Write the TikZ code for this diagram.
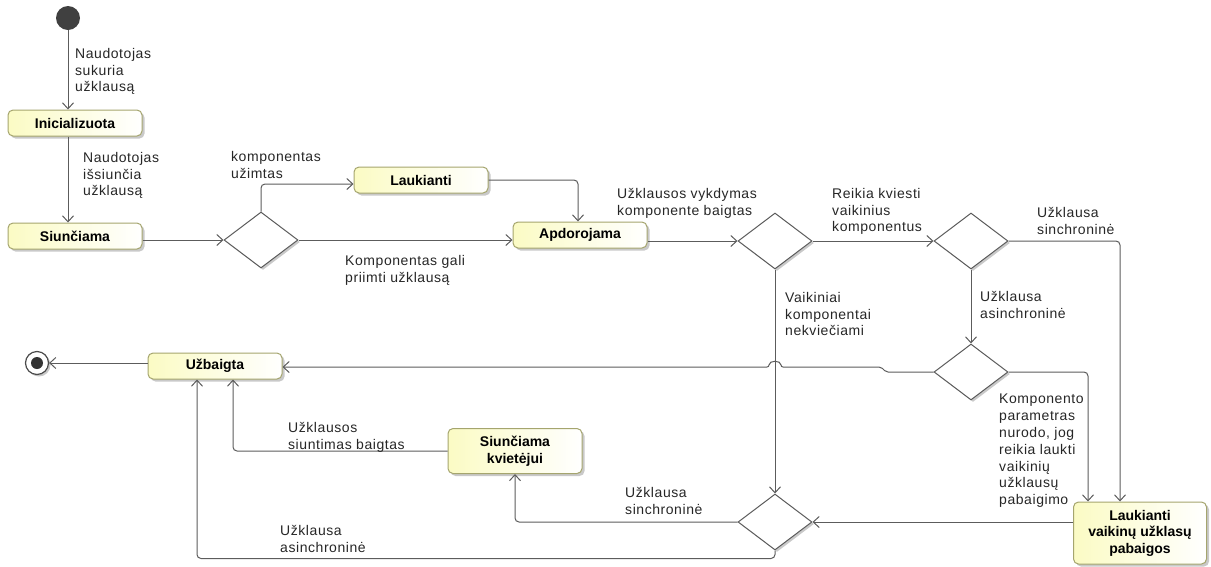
\documentclass[tikz,border=0pt]{standalone}
\usepackage{fontspec}
\setmainfont{Liberation Sans}
\usetikzlibrary{arrows.meta,shapes.geometric,shadows}

\definecolor{edgegray}{HTML}{5C5C5C}
\definecolor{stateline}{HTML}{A5A56E}
\definecolor{statefill}{HTML}{FBFBC4}

\tikzset{
  statebox/.style={rectangle, rounded corners=5pt, draw=stateline, line width=1pt,
    left color=statefill, right color=white, minimum width=134pt, minimum height=26pt,
    font=\fontsize{14}{16.5}\selectfont\bfseries, align=center, inner sep=2pt,
    drop shadow={shadow xshift=2.5pt, shadow yshift=-2.5pt, opacity=0.3, fill=black!70}},
  choice/.style={diamond, draw=edgegray, fill=white, line width=1pt, inner sep=0pt,
    minimum width=74pt, minimum height=56pt,
    drop shadow={shadow xshift=2pt, shadow yshift=-2pt, opacity=0.3, fill=black!70}},
  flow/.style={draw=edgegray, line width=1pt, rounded corners=4pt,
    -{Straight Barb[length=6pt,width=11pt]}},
  lbl/.style={font=\fontsize{14}{16.8}\selectfont\addfontfeatures{LetterSpace=4}, align=left,
    anchor=north west, inner sep=0pt, text=black!85}
}

\begin{document}
\begin{tikzpicture}[x=1pt, y=-1pt]
\useasboundingbox (0,0) rectangle (1211,566);

% pseudo states
\node[circle, fill=black!75, minimum size=24pt, inner sep=0pt] (init) at (68,18) {};
\node[circle, draw=black!70, fill=white, line width=1.2pt, minimum size=23pt, inner sep=0pt,
  drop shadow={shadow xshift=2pt, shadow yshift=-2pt, opacity=0.3, fill=black!70}] (fin) at (37,363) {};
\node[circle, fill=black!80, minimum size=12pt, inner sep=0pt] (finin) at (fin) {};

% states
\node[statebox] (ini)  at (75,123)  {Inicializuota};
\node[statebox] (siu)  at (75,236)  {Siunčiama};
\node[statebox] (lauk) at (421,180) {Laukianti};
\node[statebox] (apd)  at (580,235) {Apdorojama};
\node[statebox] (uzb)  at (215,366) {Užbaigta};
\node[statebox, minimum height=45pt] (sk) at (515,451) {Siunčiama\\kvietėjui};
\node[statebox, minimum width=133pt, minimum height=62pt] (lvp) at (1140,533) {Laukianti\\vaikinų užklasų\\pabaigos};

% decisions
\node[choice] (d1) at (261,240) {};
\node[choice] (d2) at (775,241) {};
\node[choice] (d3) at (971,241) {};
\node[choice] (d4) at (971,372) {};
\node[choice] (d5) at (775,522) {};

% transitions
\draw[flow] (init.south) -- (init |- ini.north);
\draw[flow] (init |- ini.south) -- (init |- siu.north);
\draw[flow] (siu.east |- d1.west) -- (d1.west);
\draw[flow] (d1.north) |- ([yshift=-4pt]lauk.west);
\draw[flow] (lauk.east) -| ([xshift=-2pt]apd.north);
\draw[flow] (d1.east) -- (d1.east -| apd.west);
\draw[flow] (apd.east |- d2.west) -- (d2.west);
\draw[flow] (d2.east) -- (d3.west);
\draw[flow] (d3.east) -| ([xshift=-20pt]lvp.north);
\draw[flow] (d3.south) -- (d4.north);
\draw[flow] (d4.east) -| ([xshift=-52pt]lvp.north);
\draw[flow, rounded corners=2pt] (d4.west) -- (886,372) -- (881,367) -- (781,367)
  .. controls (781,360) and (769,360) .. (769,367) -- (uzb.east |- 0,367);
\draw[flow] (d2.south) -- (d5.north);
\draw[flow] (lvp.west |- d5.east) -- (d5.east);
\draw[flow] (d5.west) -| (sk.south);
\draw[flow] (sk.west) -| ([xshift=18pt]uzb.south);
\draw[flow] (d5.south) -- ++(0,8) -| ([xshift=-18pt]uzb.south);
\draw[flow] (uzb.west |- fin) -- (fin.east);

% transition labels
\node[lbl] (t1)  at (75,48)   {Naudotojas\\sukuria\\užklausą};
\node[lbl] (t2)  at (83,152)  {Naudotojas\\išsiunčia\\užklausą};
\node[lbl] (t3)  at (231,151) {komponentas\\užimtas};
\node[lbl] (t4)  at (345,255) {Komponentas gali\\priimti užklausą};
\node[lbl] (t5)  at (617,188) {Užklausos vykdymas\\komponente baigtas};
\node[lbl] (t6)  at (832,188) {Reikia kviesti\\vaikinius\\komponentus};
\node[lbl] (t7)  at (785,292) {Vaikiniai\\komponentai\\nekviečiami};
\node[lbl] (t8)  at (1037,207) {Užklausa\\sinchroninė};
\node[lbl] (t9)  at (980,291) {Užklausa\\asinchroninė};
\node[lbl] (t10) at (999,394) {Komponento\\parametras\\nurodo, jog\\reikia laukti\\vaikinių\\užklausų\\pabaigimo};
\node[lbl] (t11) at (288,422) {Užklausos\\siuntimas baigtas};
\node[lbl] (t12) at (280,525) {Užklausa\\asinchroninė};
\node[lbl] (t13) at (625,487) {Užklausa\\sinchroninė};
\end{tikzpicture}
\end{document}
